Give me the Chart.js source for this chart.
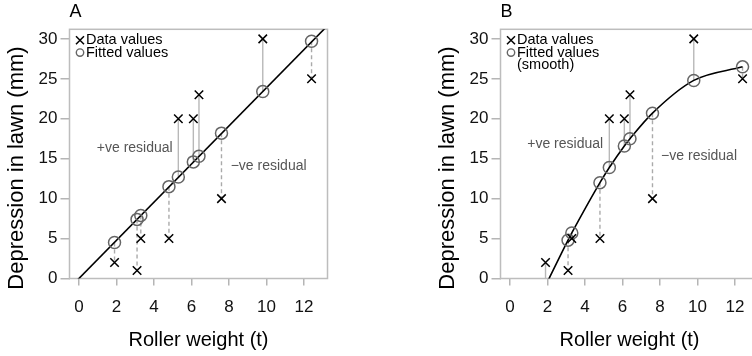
<!DOCTYPE html>
<html><head><meta charset="utf-8">
<script src="https://cdn.jsdelivr.net/npm/chart.js@4/dist/chart.umd.min.js"></script>
<style>
html,body{margin:0;padding:0;background:#fff;}
body{width:752px;height:356px;overflow:hidden;position:relative;}
canvas{position:absolute;top:0;}
#cA{left:0;} #cB{left:431px;}
</style></head><body>
<canvas id="cA" width="376" height="356"></canvas>
<canvas id="cB" width="376" height="356"></canvas>
<script>
// ---- data ----
const weight = [1.9, 3.1, 3.3, 4.8, 5.3, 6.1, 6.4, 7.6, 9.8, 12.4];
const depression = [2, 1, 5, 5, 20, 20, 23, 10, 30, 25];
const fittedLinear = [4.5, 7.4, 7.9, 11.5, 12.7, 14.6, 15.3, 18.2, 23.4, 29.7];
const fittedSmooth = [-0.9, 4.8, 5.7, 12.0, 13.9, 16.6, 17.5, 20.7, 24.8, 26.5];
const lineX = [-0.5, 13.25];
const lineY = [-1.2, 31.65];
const xTicks = [0, 2, 4, 6, 8, 10, 12];
const yTicks = [0, 5, 10, 15, 20, 25, 30];
const xTitle = 'Roller weight (t)';
const yTitle = 'Depression in lawn (mm)';
const legendA = ['Data values', 'Fitted values'];
const legendB = ['Data values', 'Fitted values', '(smooth)'];
const posNote = '+ve residual';
const negNote = '\u2212ve residual';

const FONT = '"Liberation Sans", Arial, Helvetica, sans-serif';

function pts(xs, ys) { return xs.map((x, i) => ({x: x, y: ys[i]})); }
function residuals(xs, fit, obs, positive) {
  const out = [];
  xs.forEach((x, i) => {
    if ((obs[i] > fit[i]) === positive) {
      out.push({x: x, y: fit[i]}, {x: x, y: obs[i]}, {x: x, y: null});
    }
  });
  return out;
}

const decor = {
  id: 'decor',
  beforeDatasetsDraw(chart, args, o) {
    const {ctx, chartArea: a} = chart;
    ctx.save();
    ctx.strokeStyle = '#bdbdbd';
    ctx.lineWidth = 1.5;
    ctx.strokeRect(a.left, a.top, a.right - a.left, a.bottom - a.top);
    ctx.restore();
  },
  afterDraw(chart, args, o) {
    const {ctx, chartArea: a, scales} = chart;
    ctx.save();
    ctx.fillStyle = '#000';
    ctx.font = '18px ' + FONT;
    ctx.textAlign = 'left';
    ctx.textBaseline = 'middle';
    ctx.fillText(o.letter, a.left, 12.5);
    // y title
    ctx.save();
    ctx.translate(17, 168);
    ctx.rotate(-Math.PI / 2);
    ctx.font = '22px ' + FONT;
    ctx.textAlign = 'center';
    ctx.fillStyle = '#000';
    ctx.fillText(o.yTitle, 0, 0);
    ctx.restore();
    // legend
    ctx.font = '14.5px ' + FONT;
    ctx.textAlign = 'left';
    o.legend.forEach((t, i) => {
      const y = a.top + 11 + i * 12.3;
      const mx = a.left + 10.5;
      if (i === 0) {
        ctx.strokeStyle = '#000'; ctx.lineWidth = 1.5;
        ctx.beginPath();
        ctx.moveTo(mx - 4, y - 4); ctx.lineTo(mx + 4, y + 4);
        ctx.moveTo(mx - 4, y + 4); ctx.lineTo(mx + 4, y - 4);
        ctx.stroke();
      } else if (i === 1) {
        ctx.strokeStyle = '#666'; ctx.lineWidth = 1.4;
        ctx.beginPath(); ctx.arc(mx, y, 3.7, 0, Math.PI * 2); ctx.stroke();
      }
      ctx.fillStyle = '#000';
      ctx.fillText(t, a.left + 16.5, y);
    });
    // notes
    ctx.font = '14px ' + FONT;
    ctx.fillStyle = '#555';
    o.notes.forEach(n => {
      ctx.textAlign = n.align;
      ctx.fillText(n.text, scales.x.getPixelForValue(n.x), scales.y.getPixelForValue(n.y));
    });
    ctx.restore();
  }
};

function makeChart(id, fitted, curve, letter, legend, notes, smooth) {
  const datasets = [
    {data: pts(weight, depression), pointStyle: 'crossRot', pointRadius: 6, pointBorderWidth: 1.5,
     borderColor: '#000', backgroundColor: '#000', showLine: false, clip: 0},
    {data: pts(weight, fitted), pointStyle: 'circle', pointRadius: 6, pointBorderWidth: 1.5,
     borderColor: '#666666', backgroundColor: 'rgba(0,0,0,0)', showLine: false, clip: 0},
    {data: curve, showLine: true, pointRadius: 0, borderColor: '#000', borderWidth: 1.6,
     cubicInterpolationMode: smooth ? 'monotone' : 'default', clip: 0},
    {data: residuals(weight, fitted, depression, true), showLine: true, pointRadius: 0,
     borderColor: '#b8b8b8', borderWidth: 1.4, spanGaps: false, clip: 0},
    {data: residuals(weight, fitted, depression, false), showLine: true, pointRadius: 0,
     borderColor: '#aaaaaa', borderWidth: 1.4, borderDash: [4, 3], spanGaps: false, clip: 0}
  ];
  return new Chart(document.getElementById(id), {
    type: 'scatter',
    data: {datasets: datasets},
    plugins: [decor],
    options: {
      responsive: false,
      animation: false,
      devicePixelRatio: 1,
      layout: {padding: {left: 0, top: 29.3, right: 48.5, bottom: 0}},
      plugins: {
        legend: {display: false},
        tooltip: {enabled: false},
        decor: {letter: letter, legend: legend, notes: notes, yTitle: yTitle}
      },
      scales: {
        x: {
          type: 'linear', min: -0.5, max: 13.25,
          afterBuildTicks: s => { s.ticks = xTicks.map(v => ({value: v})); },
          afterFit: s => { s.height = 77.5; },
          grid: {drawOnChartArea: false, drawTicks: true, tickLength: 7, color: '#b5b5b5', lineWidth: 1.5},
          border: {display: false},
          ticks: {font: {family: FONT, size: 17}, color: '#111', padding: 12, maxRotation: 0},
          title: {display: true, text: xTitle, font: {family: FONT, size: 20}, color: '#000', padding: {top: 0, bottom: 4}}
        },
        y: {
          type: 'linear', min: 0, max: 31.2,
          afterBuildTicks: s => { s.ticks = yTicks.map(v => ({value: v})); },
          afterFit: s => { s.width = 69.5; },
          grid: {drawOnChartArea: false, drawTicks: true, tickLength: 9, color: '#b5b5b5', lineWidth: 1.5},
          border: {display: false},
          ticks: {font: {family: FONT, size: 17}, color: '#111', padding: 3},
          title: {display: false}
        }
      }
    }
  });
}

makeChart('cA', fittedLinear, pts(lineX, lineY), 'A', legendA,
  [{text: posNote, x: 5.0, y: 16.35, align: 'right'}, {text: negNote, x: 8.09, y: 14.1, align: 'left'}], false);
makeChart('cB', fittedSmooth, pts(weight, fittedSmooth), 'B', legendB,
  [{text: posNote, x: 4.97, y: 16.85, align: 'right'}, {text: negNote, x: 8.06, y: 15.35, align: 'left'}], true);
</script>
</body></html>
